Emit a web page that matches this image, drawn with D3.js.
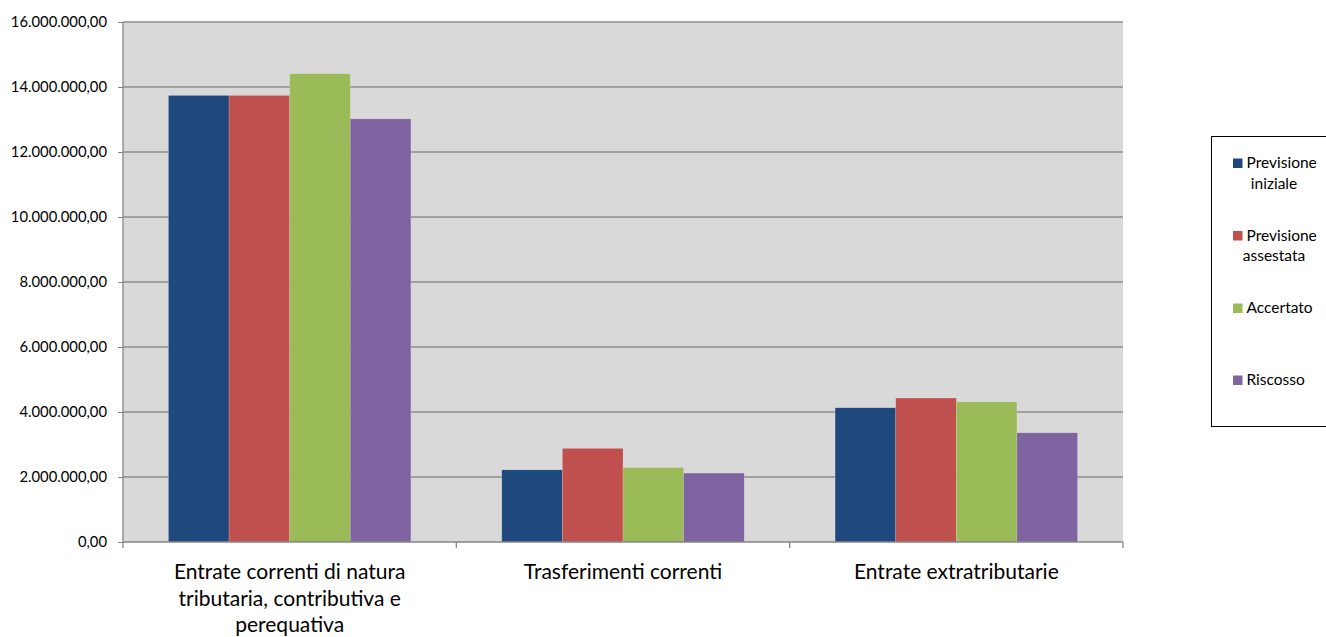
<!DOCTYPE html>
<html>
<head>
<meta charset="utf-8">
<script src="https://cdn.jsdelivr.net/npm/d3@7"></script>
<style>
  body { margin: 0; background: #fff; }
  svg { display: block; font-family: Lato, 'Open Sans', sans-serif; }
</style>
</head>
<body>
<svg id="chart" width="1326" height="637"></svg>
<script>
const categories = [
    ['Entrate correnti di natura', 'tributaria, contributiva e', 'perequativa'],
    ['Trasferimenti correnti'],
    ['Entrate extratributarie']
];
const seriesNames = [
    ['Previsione', 'iniziale'],
    ['Previsione', 'assestata'],
    ['Accertato'],
    ['Riscosso']
];
const previsioneIniziale = [13740000, 2220000, 4130000];
const previsioneAssestata = [13740000, 2880000, 4430000];
const accertato = [14410000, 2290000, 4310000];
const riscosso = [13020000, 2120000, 3360000];
const yTicks = [0, 2000000, 4000000, 6000000, 8000000, 10000000, 12000000, 14000000, 16000000];
const colors = ['#1f497d', '#c0504d', '#9bbb59', '#8064a2'];

const values = [previsioneIniziale, previsioneAssestata, accertato, riscosso];

const plotLeft = 123, plotRight = 1123, plotTop = 22, plotBottom = 542;
const svg = d3.select('#chart');

const x0 = d3.scaleBand()
    .domain(d3.range(categories.length))
    .range([plotLeft, plotRight]);

// gap width 150% like the spreadsheet default
const bw = x0.bandwidth();
const barW = bw / (values.length + 1.5);
const x1 = d3.scaleBand()
    .domain(d3.range(values.length))
    .range([barW * 0.75, bw - barW * 0.75]);

const y = d3.scaleLinear()
    .domain([0, 16000000])
    .range([plotBottom, plotTop]);

const fmt = v => d3.format(',.2f')(v).replace(/,/g, '#').replace('.', ',').replace(/#/g, '.');

// plot background
svg.append('rect')
    .attr('x', plotLeft).attr('y', plotTop)
    .attr('width', plotRight - plotLeft).attr('height', plotBottom - plotTop)
    .attr('fill', '#d9d9d9');

// gridlines
svg.append('g')
    .selectAll('line')
    .data(yTicks.slice(1))
    .join('line')
        .attr('x1', plotLeft).attr('x2', plotRight)
        .attr('y1', d => y(d)).attr('y2', d => y(d))
        .attr('stroke', '#8c8c8c')
        .attr('stroke-width', 1.3);

// bars
const groups = svg.append('g')
    .selectAll('g')
    .data(categories)
    .join('g')
        .attr('transform', (d, i) => `translate(${x0(i)},0)`);

groups.selectAll('rect')
    .data((d, i) => values.map((s, j) => ({ s: j, v: s[i] })))
    .join('rect')
        .attr('x', d => x1(d.s))
        .attr('width', x1.bandwidth())
        .attr('y', d => y(d.v))
        .attr('height', d => y(0) - y(d.v))
        .attr('fill', d => colors[d.s])
        .attr('stroke', 'rgba(255,255,255,0.25)')
        .attr('stroke-width', 0.6);

// y axis
const yAxis = svg.append('g')
    .attr('transform', `translate(${plotLeft},0)`)
    .call(d3.axisLeft(y).tickValues(yTicks).tickFormat(fmt).tickSize(5).tickPadding(11));
yAxis.select('.domain').remove();
yAxis.selectAll('line').attr('stroke', '#868686');
yAxis.selectAll('text')
    .attr('fill', '#000')
    .style('font-size', '14.8px')
    .style('font-family', 'Lato, sans-serif');
svg.append('line')
    .attr('x1', plotLeft).attr('x2', plotLeft)
    .attr('y1', plotTop).attr('y2', plotBottom + 6)
    .attr('stroke', '#868686').attr('stroke-width', 1.3);

// x axis
svg.append('line')
    .attr('x1', plotLeft).attr('x2', plotRight)
    .attr('y1', plotBottom).attr('y2', plotBottom)
    .attr('stroke', '#868686').attr('stroke-width', 1.3);
svg.append('g')
    .selectAll('line')
    .data(d3.range(1, categories.length + 1))
    .join('line')
        .attr('x1', d => plotLeft + d * bw).attr('x2', d => plotLeft + d * bw)
        .attr('y1', plotBottom).attr('y2', plotBottom + 6)
        .attr('stroke', '#868686').attr('stroke-width', 1.3);

svg.append('g')
    .selectAll('text')
    .data(categories)
    .join('text')
        .attr('text-anchor', 'middle')
        .attr('font-size', '21px')
        .attr('fill', '#000')
        .attr('transform', (d, i) => `translate(${x0(i) + bw / 2},${plotBottom + 37})`)
        .selectAll('tspan')
        .data(d => d)
        .join('tspan')
            .attr('x', 0)
            .attr('y', (d, i) => i * 26.5)
            .text(d => d);

// legend
svg.append('rect')
    .attr('x', 1211.5).attr('y', 136.5)
    .attr('width', 140).attr('height', 290)
    .attr('fill', '#fff')
    .attr('stroke', '#000').attr('stroke-width', 1);

const legendY = [163, 235.5, 308, 380];
const legend = svg.append('g')
    .selectAll('g')
    .data(seriesNames)
    .join('g')
        .attr('transform', (d, i) => `translate(1233,${legendY[i]})`);

legend.append('rect')
    .attr('x', 0).attr('y', -4.5)
    .attr('width', 9.5).attr('height', 9.5)
    .attr('fill', (d, i) => colors[i]);

legend.append('text')
    .attr('font-size', '15.5px')
    .attr('fill', '#000')
    .selectAll('tspan')
    .data(d => d)
    .join('tspan')
        .attr('x', (d, i) => i === 0 ? 13.5 : 41)
        .attr('text-anchor', (d, i) => i === 0 ? 'start' : 'middle')
        .attr('y', (d, i) => i * 20.5)
        .attr('dy', '0.35em')
        .text(d => d);
</script>
</body>
</html>
